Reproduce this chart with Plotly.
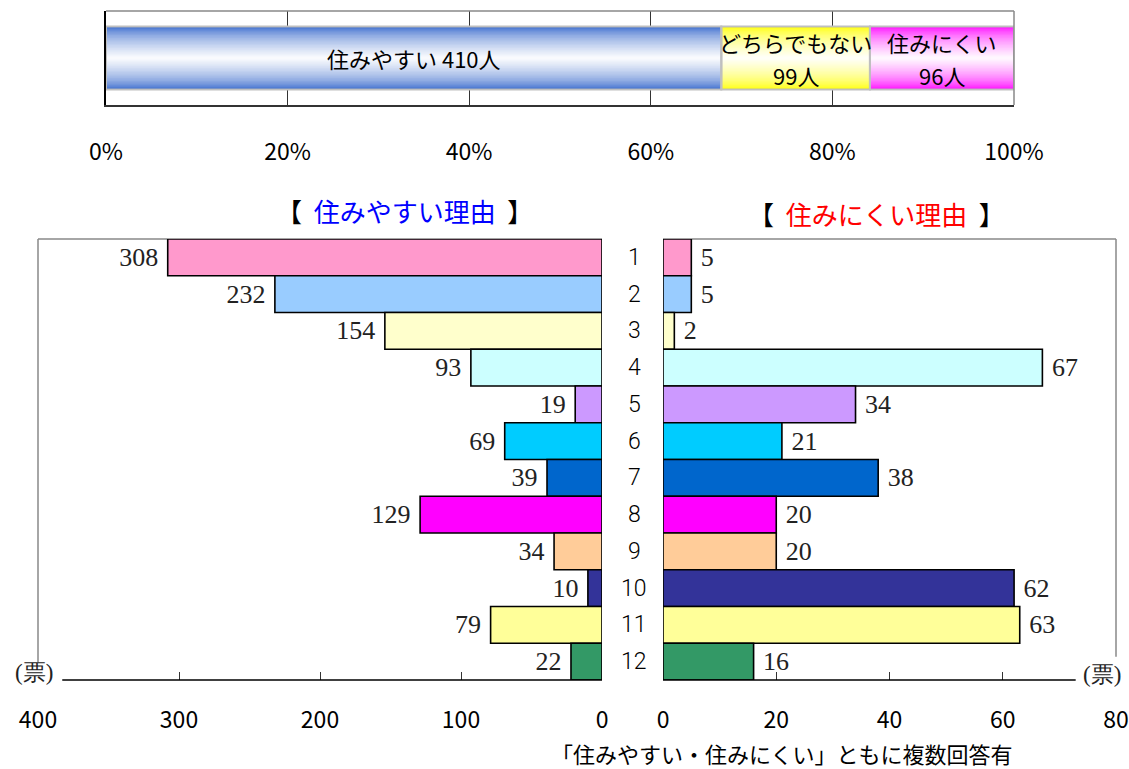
import plotly.graph_objects as go

# ---- data ----
overall_labels = ["住みやすい", "どちらでもない", "住みにくい"]
overall_counts = [410, 99, 96]
overall_pct_ticks = [0, 20, 40, 60, 80, 100]

reason_ids = [1, 2, 3, 4, 5, 6, 7, 8, 9, 10, 11, 12]
easy_votes = [308, 232, 154, 93, 19, 69, 39, 129, 34, 10, 79, 22]
hard_votes = [5, 5, 2, 67, 34, 21, 38, 20, 20, 62, 63, 16]
easy_ticks = [400, 300, 200, 100, 0]
hard_ticks = [0, 20, 40, 60, 80]

reason_colors = ["#FF99CC", "#99CCFF", "#FFFFCC", "#CCFFFF", "#CC99FF", "#00CCFF",
                 "#0066CC", "#FF00FF", "#FFCC99", "#333399", "#FFFF99", "#339966"]
overall_edge_colors = [(51, 102, 204), (255, 255, 0), (255, 0, 255)]

W, H = 1129, 769
SANS = "Noto Sans CJK JP"
SERIF = "Liberation Serif, DejaVu Serif"
NUMF = "Noto Sans CJK JP"
ROWF = "Roboto, Liberation Sans, Arial"


def px(x):
    return x / W


def py(y):
    return 1 - y / H


fig = go.Figure()

# ---- overall stacked bar with a vertical shading (nested layers) ----
total = sum(overall_counts)
shares = [c / total * 100 for c in overall_counts]
starts = [sum(shares[:i]) for i in range(len(shares))]
BAR_W = 0.67
N_LAYERS = 22
for k in range(N_LAYERS):
    t = k / N_LAYERS
    w = BAR_W * (1 - t)
    f = t ** 0.6
    cols = []
    for (r, g, b) in overall_edge_colors:
        cols.append("rgb(%d,%d,%d)" % (r + (255 - r) * f, g + (255 - g) * f, b + (255 - b) * f))
    fig.add_trace(go.Bar(
        x=shares, base=starts, y=[0, 0, 0], orientation="h",
        width=w, marker=dict(color=cols, line=dict(width=0)),
        xaxis="x", yaxis="y", hoverinfo="skip", showlegend=False))
fig.add_trace(go.Bar(
    x=shares, base=starts, y=[0, 0, 0], orientation="h", width=BAR_W,
    marker=dict(color="rgba(0,0,0,0)", line=dict(color="#BFBFBF", width=2)),
    xaxis="x", yaxis="y", hoverinfo="skip", showlegend=False))


def note(x, y, text, font, xref="paper", yref="paper", **kw):
    return dict(x=x, y=y, xref=xref, yref=yref, text=text, showarrow=False,
                xanchor="center", yanchor="middle", font=font, **kw)


ann = []
bar_font = dict(family=SANS, size=22, color="black")
centers = [s + v / 2 for s, v in zip(starts, shares)]
ann.append(note(centers[0], 0, "%s %d人" % (overall_labels[0], overall_counts[0]),
                bar_font, xref="x", yref="y"))
for i in (1, 2):
    ann.append(note(centers[i], 0, overall_labels[i], bar_font, xref="x", yref="y", yshift=16))
    ann.append(note(centers[i], 0, "%d人" % overall_counts[i], bar_font,
                    xref="x", yref="y", yshift=-17))

value_font = dict(family=SERIF, size=26, color="#222")

# ---- reasons: easy to live (left, reversed) ----
fig.add_trace(go.Bar(
    x=easy_votes, y=reason_ids, orientation="h", width=1,
    marker=dict(color=reason_colors, line=dict(color="black", width=1.6)),
    text=["%d " % v for v in easy_votes], textposition="outside",
    textfont=value_font, constraintext="none", cliponaxis=False,
    xaxis="x2", yaxis="y2", hoverinfo="skip", showlegend=False))

# ---- reasons: hard to live (right) ----
fig.add_trace(go.Bar(
    x=hard_votes, y=reason_ids, orientation="h", width=1,
    marker=dict(color=reason_colors, line=dict(color="black", width=1.6)),
    text=[" %d" % v for v in hard_votes], textposition="outside",
    textfont=value_font, constraintext="none", cliponaxis=False,
    xaxis="x3", yaxis="y3", hoverinfo="skip", showlegend=False))

# reason numbers between the two panels
for rid in reason_ids:
    ann.append(note(px(634), rid, str(rid),
                    dict(family=ROWF, size=23, color="black", weight=300), yref="y2"))

# panel titles
title_font = dict(family=SANS, size=26, color="black")
ann.append(note(px(404), py(210),
                '【  <span style="color:#0000FF">住みやすい理由</span>  】', title_font))
ann.append(note(px(876), py(213),
                '【  <span style="color:#FF0000">住みにくい理由</span>  】', title_font))

# unit labels
unit_font = dict(family=SERIF, size=23, color="#222")
ann.append(note(px(34), py(672), "(票)", unit_font))
ann.append(note(px(1102), py(674), "(票)", unit_font))

# footnote
ann.append(note(px(782), py(753), "「住みやすい・住みにくい」ともに複数回答有",
                dict(family=SANS, size=22, color="black")))

shapes = [
    # overall frame: top and right edges
    dict(type="line", xref="x domain", yref="y domain", x0=0, x1=1, y0=1, y1=1,
         line=dict(color="#888888", width=1.5)),
    dict(type="line", xref="x domain", yref="y domain", x0=1, x1=1, y0=0, y1=1,
         line=dict(color="#888888", width=1.5)),
    # left panel frame
    dict(type="line", xref="x2 domain", yref="y2 domain", x0=0, x1=1, y0=1, y1=1,
         line=dict(color="#888888", width=1.5), layer="below"),
    dict(type="line", xref="x2 domain", yref="y2 domain", x0=0, x1=0, y0=0.04, y1=1,
         line=dict(color="#888888", width=1.5)),
    dict(type="line", xref="x2 domain", yref="y2 domain", x0=0.043, x1=1, y0=0, y1=0,
         line=dict(color="black", width=1.5)),
    # right panel frame
    dict(type="line", xref="x3 domain", yref="y3 domain", x0=0, x1=1, y0=1, y1=1,
         line=dict(color="#888888", width=1.5), layer="below"),
    dict(type="line", xref="x3 domain", yref="y3 domain", x0=1, x1=1, y0=0.053, y1=1,
         line=dict(color="#888888", width=1.5)),
    dict(type="line", xref="x3 domain", yref="y3 domain", x0=0, x1=0.911, y0=0, y1=0,
         line=dict(color="black", width=1.5)),
]

tick_font = dict(family=NUMF, size=23, color="black")

fig.update_layout(
    width=W, height=H, margin=dict(l=0, r=0, t=0, b=0, autoexpand=False),
    paper_bgcolor="white", plot_bgcolor="rgba(0,0,0,0)",
    barmode="overlay", showlegend=False,
    annotations=ann, shapes=shapes,
    xaxis=dict(domain=[px(106), px(1014)], range=[0, 100], anchor="y", automargin=False,
               tickvals=overall_pct_ticks, ticktext=["%d%%" % v for v in overall_pct_ticks],
               showgrid=True, gridcolor="#333333", gridwidth=1.2, zeroline=False,
               showline=True, linecolor="#333333", linewidth=1.5,
               ticks="", ticklabelstandoff=26, tickfont=tick_font),
    yaxis=dict(domain=[py(105), py(11)], range=[-0.5, 0.5], anchor="x", automargin=False,
               showticklabels=False, showgrid=False, zeroline=False,
               showline=True, linecolor="black", linewidth=1.5, ticks=""),
    xaxis2=dict(domain=[px(38), px(602)], range=[400, 0], anchor="y2", automargin=False,
                tickvals=easy_ticks, ticks="", showgrid=False, zeroline=False,
                showline=False, ticklabelstandoff=24, tickfont=tick_font,
                minor=dict(tickvals=[100, 200, 300], ticks="inside", ticklen=8,
                           tickcolor="#333333", tickwidth=1.2)),
    yaxis2=dict(domain=[py(680), py(239)], range=[12.5, 0.5], anchor="x2", automargin=False,
                showticklabels=False, showgrid=False, zeroline=False, ticks=""),
    xaxis3=dict(domain=[px(663), px(1116)], range=[0, 80], anchor="y3", automargin=False,
                tickvals=hard_ticks, ticks="", showgrid=False, zeroline=False,
                showline=False, ticklabelstandoff=24, tickfont=tick_font,
                minor=dict(tickvals=[20, 40, 60], ticks="inside", ticklen=8,
                           tickcolor="#333333", tickwidth=1.2)),
    yaxis3=dict(domain=[py(680), py(239)], range=[12.5, 0.5], anchor="x3", automargin=False,
                showticklabels=False, showgrid=False, zeroline=False, ticks=""),
)

fig.write_html("out.html")
